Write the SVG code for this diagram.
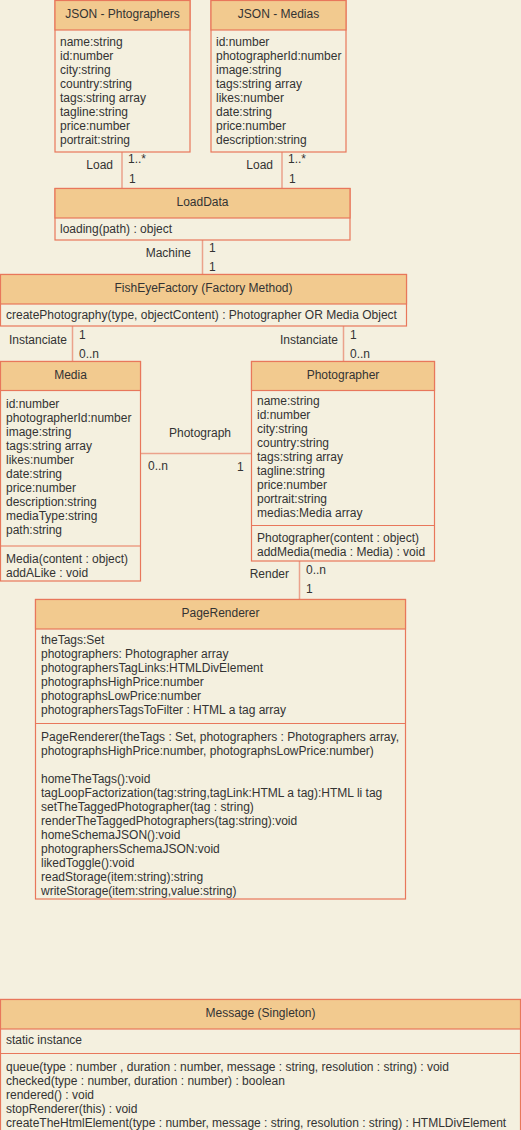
<svg xmlns="http://www.w3.org/2000/svg" width="521" height="1130" viewBox="0 0 521 1130">
<style>
.bg{fill:#F4F0DF}
.box{fill:#F4F0DF;stroke:#E8775B;stroke-width:1.2}
.hd{fill:#F2CA8F;stroke:#E8775B;stroke-width:1.2}
.dv{stroke:#E8775B;stroke-width:1.2}
.ln{stroke:#EBA28B;stroke-width:1.5;fill:none}
text{font-family:"Liberation Sans",Arial,sans-serif;font-size:12px;fill:#333}
.c{text-anchor:middle}
.e{text-anchor:end}
</style>
<rect class="bg" x="0" y="0" width="521" height="1130"/>
<g id="connectors">
<line class="ln" x1="122" y1="152" x2="122" y2="188"/>
<text class="e" x="113" y="169">Load</text>
<text x="128" y="163">1..*</text>
<text x="129" y="183">1</text>
<line class="ln" x1="282" y1="152" x2="282" y2="188"/>
<text class="e" x="273" y="169">Load</text>
<text x="288" y="163">1..*</text>
<text x="289" y="183">1</text>
<line class="ln" x1="202.5" y1="240" x2="202.5" y2="274"/>
<text class="e" x="191" y="257">Machine</text>
<text x="209" y="252">1</text>
<text x="209" y="271">1</text>
<line class="ln" x1="72.5" y1="326" x2="72.5" y2="361"/>
<text class="e" x="67" y="344">Instanciate</text>
<text x="79" y="339">1</text>
<text x="79" y="358">0..n</text>
<line class="ln" x1="343.5" y1="326" x2="343.5" y2="361"/>
<text class="e" x="338" y="344">Instanciate</text>
<text x="350" y="339">1</text>
<text x="350" y="358">0..n</text>
<line class="ln" x1="140" y1="453.5" x2="251" y2="453.5"/>
<text class="c" x="200" y="437">Photograph</text>
<text x="148" y="470">0..n</text>
<text x="237" y="471">1</text>
<line class="ln" x1="299.5" y1="561" x2="299.5" y2="599"/>
<text class="e" x="289" y="578">Render</text>
<text x="306" y="574">0..n</text>
<text x="306" y="593">1</text>
</g>
<g id="json-photographers">
<rect class="box" x="55" y="0.5" width="135" height="151.5"/>
<rect class="hd" x="55" y="0.5" width="135" height="29.5"/>
<text class="c" x="122.5" y="18">JSON - Phtographers</text>
<text x="60" y="46">name:string</text>
<text x="60" y="60">id:number</text>
<text x="60" y="74">city:string</text>
<text x="60" y="88">country:string</text>
<text x="60" y="102">tags:string array</text>
<text x="60" y="116">tagline:string</text>
<text x="60" y="130">price:number</text>
<text x="60" y="144">portrait:string</text>
</g>
<g id="json-medias">
<rect class="box" x="211" y="0.5" width="135" height="151.5"/>
<rect class="hd" x="211" y="0.5" width="135" height="29.5"/>
<text class="c" x="278.5" y="18">JSON - Medias</text>
<text x="216" y="46">id:number</text>
<text x="216" y="60">photographerId:number</text>
<text x="216" y="74">image:string</text>
<text x="216" y="88">tags:string array</text>
<text x="216" y="102">likes:number</text>
<text x="216" y="116">date:string</text>
<text x="216" y="130">price:number</text>
<text x="216" y="144">description:string</text>
</g>
<g id="loaddata">
<rect class="box" x="55" y="188.5" width="295" height="51.5"/>
<rect class="hd" x="55" y="188.5" width="295" height="29.5"/>
<text class="c" x="202.5" y="206">LoadData</text>
<text x="60" y="233">loading(path) : object</text>
</g>
<g id="fisheyefactory">
<rect class="box" x="0.5" y="274.5" width="406" height="51.5"/>
<rect class="hd" x="0.5" y="274.5" width="406" height="29.5"/>
<text class="c" x="203.5" y="292">FishEyeFactory (Factory Method)</text>
<text x="6" y="319">createPhotography(type, objectContent) : Photographer OR Media Object</text>
</g>
<g id="media">
<rect class="box" x="0.5" y="361.5" width="140" height="219.5"/>
<rect class="hd" x="0.5" y="361.5" width="140" height="29"/>
<text class="c" x="70.5" y="379">Media</text>
<text x="6" y="408">id:number</text>
<text x="6" y="422">photographerId:number</text>
<text x="6" y="436">image:string</text>
<text x="6" y="450">tags:string array</text>
<text x="6" y="464">likes:number</text>
<text x="6" y="478">date:string</text>
<text x="6" y="492">price:number</text>
<text x="6" y="506">description:string</text>
<text x="6" y="520">mediaType:string</text>
<text x="6" y="534">path:string</text>
<line class="dv" x1="0.5" y1="546" x2="140.5" y2="546"/>
<text x="6" y="563">Media(content : object)</text>
<text x="6" y="577">addALike : void</text>
</g>
<g id="photographer">
<rect class="box" x="251.5" y="361.5" width="183" height="199.5"/>
<rect class="hd" x="251.5" y="361.5" width="183" height="29"/>
<text class="c" x="343" y="379">Photographer</text>
<text x="257" y="405">name:string</text>
<text x="257" y="419">id:number</text>
<text x="257" y="433">city:string</text>
<text x="257" y="447">country:string</text>
<text x="257" y="461">tags:string array</text>
<text x="257" y="475">tagline:string</text>
<text x="257" y="489">price:number</text>
<text x="257" y="503">portrait:string</text>
<text x="257" y="517">medias:Media array</text>
<line class="dv" x1="251.5" y1="525.5" x2="434.5" y2="525.5"/>
<text x="257" y="542">Photographer(content : object)</text>
<text x="257" y="556">addMedia(media : Media) : void</text>
</g>
<g id="pagerenderer">
<rect class="box" x="35.5" y="599.5" width="370" height="299.5"/>
<rect class="hd" x="35.5" y="599.5" width="370" height="29.5"/>
<text class="c" x="220.5" y="617">PageRenderer</text>
<text x="41" y="644">theTags:Set</text>
<text x="41" y="658">photographers: Photographer array</text>
<text x="41" y="672">photographersTagLinks:HTMLDivElement</text>
<text x="41" y="686">photographsHighPrice:number</text>
<text x="41" y="700">photographsLowPrice:number</text>
<text x="41" y="714">photographersTagsToFilter : HTML a tag array</text>
<line class="dv" x1="35.5" y1="723.5" x2="405.5" y2="723.5"/>
<text x="41" y="741">PageRenderer(theTags : Set, photographers : Photographers array,</text>
<text x="41" y="755">photographsHighPrice:number, photographsLowPrice:number)</text>
<text x="41" y="783">homeTheTags():void</text>
<text x="41" y="797">tagLoopFactorization(tag:string,tagLink:HTML a tag):HTML li tag</text>
<text x="41" y="811">setTheTaggedPhotographer(tag : string)</text>
<text x="41" y="825">renderTheTaggedPhotographers(tag:string):void</text>
<text x="41" y="839">homeSchemaJSON():void</text>
<text x="41" y="853">photographersSchemaJSON:void</text>
<text x="41" y="867">likedToggle():void</text>
<text x="41" y="881">readStorage(item:string):string</text>
<text x="41" y="895">writeStorage(item:string,value:string)</text>
</g>
<g id="message">
<rect class="box" x="0.5" y="999.5" width="520" height="140"/>
<rect class="hd" x="0.5" y="999.5" width="520" height="29.5"/>
<text class="c" x="260.5" y="1017">Message (Singleton)</text>
<text x="6" y="1044">static instance</text>
<line class="dv" x1="0.5" y1="1053.5" x2="520.5" y2="1053.5"/>
<text x="6" y="1071">queue(type : number , duration : number, message : string, resolution : string) : void</text>
<text x="6" y="1085">checked(type : number, duration : number) : boolean</text>
<text x="6" y="1099">rendered() : void</text>
<text x="6" y="1113">stopRenderer(this) : void</text>
<text x="6" y="1127">createTheHtmlElement(type : number, message : string, resolution : string) : HTMLDivElement</text>
</g>
</svg>
